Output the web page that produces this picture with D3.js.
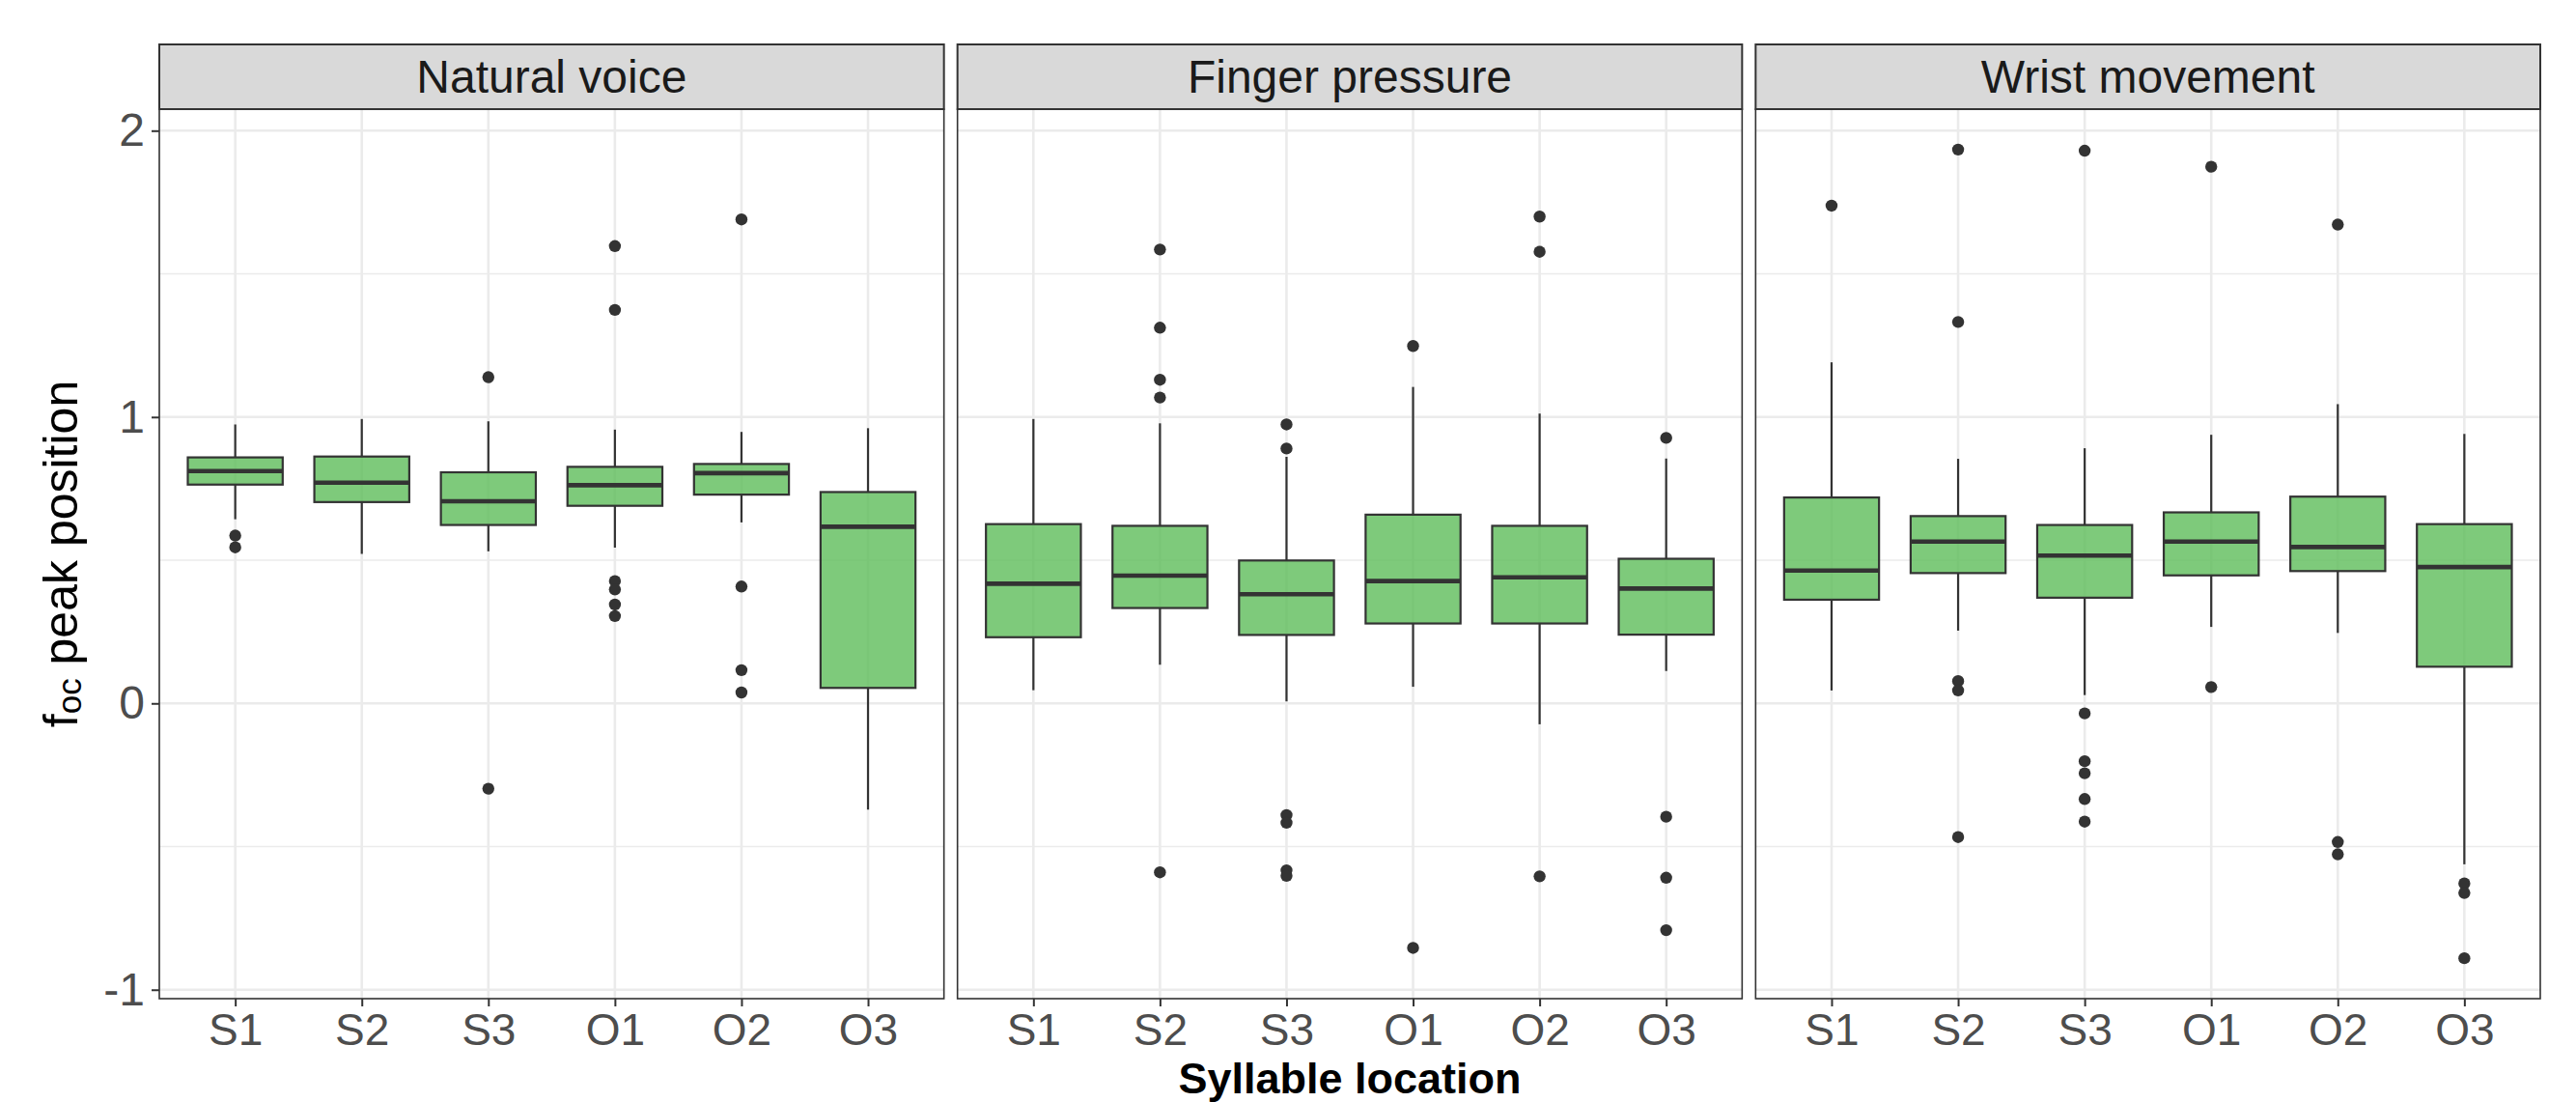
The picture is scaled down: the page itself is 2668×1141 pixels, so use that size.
<!DOCTYPE html>
<html>
<head>
<meta charset="utf-8">
<script src="https://cdn.jsdelivr.net/npm/d3@7"></script>
<style>
  body { margin: 0; background: #fff; }
  text { font-family: "Liberation Sans", Arial, Helvetica, sans-serif; }
</style>
</head>
<body>
<svg id="chart" width="2668" height="1141"></svg>
<script>
// syllable positions and facets
var categories = ["S1", "S2", "S3", "O1", "O2", "O3"];
var facets = ["Natural voice", "Finger pressure", "Wrist movement"];
var yTicks = [-1, 0, 1, 2];
var yMinor = [-0.5, 0.5, 1.5];

// [lower whisker, Q1, median, Q3, upper whisker] per syllable
var naturalStats = [
  [0.643, 0.764, 0.811, 0.859, 0.974],
  [0.522, 0.703, 0.771, 0.862, 0.993],
  [0.531, 0.623, 0.706, 0.807, 0.985],
  [0.544, 0.690, 0.762, 0.826, 0.956],
  [0.632, 0.729, 0.804, 0.836, 0.948],
  [-0.371, 0.054, 0.617, 0.738, 0.961]
];
var naturalOutliers = [
  [0.586, 0.545],
  [],
  [1.139, -0.298],
  [1.597, 1.374, 0.427, 0.398, 0.345, 0.305],
  [1.690, 0.408, 0.116, 0.038],
  []
];

var fingerStats = [
  [0.046, 0.231, 0.418, 0.626, 0.993],
  [0.135, 0.333, 0.446, 0.620, 0.978],
  [0.007, 0.239, 0.381, 0.499, 0.861],
  [0.058, 0.279, 0.427, 0.659, 1.105],
  [-0.073, 0.279, 0.440, 0.620, 1.012],
  [0.113, 0.240, 0.401, 0.505, 0.855]
];
var fingerOutliers = [
  [],
  [1.585, 1.312, 1.130, 1.068, -0.590],
  [0.974, 0.890, -0.390, -0.417, -0.583, -0.602],
  [1.248, -0.854],
  [1.700, 1.577, -0.604],
  [0.927, -0.396, -0.609, -0.792]
];

var wristStats = [
  [0.045, 0.362, 0.464, 0.719, 1.191],
  [0.254, 0.455, 0.565, 0.654, 0.854],
  [0.029, 0.369, 0.516, 0.623, 0.891],
  [0.267, 0.447, 0.565, 0.667, 0.938],
  [0.246, 0.462, 0.546, 0.722, 1.045],
  [-0.562, 0.128, 0.476, 0.626, 0.941]
];
var wristOutliers = [
  [1.738],
  [1.934, 1.332, 0.078, 0.045, -0.467],
  [1.930, -0.035, -0.202, -0.244, -0.334, -0.413],
  [1.874, 0.057],
  [1.672, -0.484, -0.527],
  [-0.629, -0.662, -0.890]
];

var panelStats = [naturalStats, fingerStats, wristStats];
var panelOutliers = [naturalOutliers, fingerOutliers, wristOutliers];

var svg = d3.select("#chart");
svg.append("rect").attr("width", 2668).attr("height", 1141).attr("fill", "#fff");

var plotLeft = 165, plotRight = 2631, gap = 14;
var panelW = (plotRight - plotLeft - 2 * gap) / 3;
var panelTop = 113, panelBottom = 1034, stripTop = 46;

// y range with ggplot-style 5% expansion
var allVals = [];
panelStats.forEach(function (p) { p.forEach(function (s) { allVals.push(s[0], s[4]); }); });
panelOutliers.forEach(function (p) { p.forEach(function (o) { allVals = allVals.concat(o); }); });
var lo = d3.min(allVals), hi = d3.max(allVals), pad = (hi - lo) * 0.05;

var y = d3.scaleLinear().domain([lo - pad, hi + pad]).range([panelBottom, panelTop]);
var x = d3.scalePoint().domain(categories).range([0, panelW]).padding(0.6);
var boxW = x.step() * 0.75;

var fill = "rgb(94,189,90)", ink = "#333333";

facets.forEach(function (name, i) {
  var g = svg.append("g").attr("transform", "translate(" + (plotLeft + i * (panelW + gap)) + ",0)");
  var stats = panelStats[i], outs = panelOutliers[i];

  g.selectAll(".minor").data(yMinor).enter().append("line")
    .attr("x1", 0).attr("x2", panelW)
    .attr("y1", function (d) { return y(d); }).attr("y2", function (d) { return y(d); })
    .attr("stroke", "#EBEBEB").attr("stroke-width", 1.4);
  g.selectAll(".major").data(yTicks).enter().append("line")
    .attr("x1", 0).attr("x2", panelW)
    .attr("y1", function (d) { return y(d); }).attr("y2", function (d) { return y(d); })
    .attr("stroke", "#EBEBEB").attr("stroke-width", 2.6);
  g.selectAll(".vgrid").data(categories).enter().append("line")
    .attr("x1", function (d) { return x(d); }).attr("x2", function (d) { return x(d); })
    .attr("y1", panelTop).attr("y2", panelBottom)
    .attr("stroke", "#EBEBEB").attr("stroke-width", 2.6);

  var box = g.selectAll(".box").data(categories).enter().append("g");

  box.append("line")
    .attr("x1", function (d) { return x(d); }).attr("x2", function (d) { return x(d); })
    .attr("y1", function (d, j) { return y(stats[j][4]); })
    .attr("y2", function (d, j) { return y(stats[j][3]); })
    .attr("stroke", ink).attr("stroke-width", 2.2);
  box.append("line")
    .attr("x1", function (d) { return x(d); }).attr("x2", function (d) { return x(d); })
    .attr("y1", function (d, j) { return y(stats[j][1]); })
    .attr("y2", function (d, j) { return y(stats[j][0]); })
    .attr("stroke", ink).attr("stroke-width", 2.2);
  box.append("rect")
    .attr("x", function (d) { return x(d) - boxW / 2; })
    .attr("width", boxW)
    .attr("y", function (d, j) { return y(stats[j][3]); })
    .attr("height", function (d, j) { return y(stats[j][1]) - y(stats[j][3]); })
    .attr("fill", fill).attr("fill-opacity", 0.8)
    .attr("stroke", ink).attr("stroke-width", 2.2);
  box.append("line")
    .attr("x1", function (d) { return x(d) - boxW / 2; })
    .attr("x2", function (d) { return x(d) + boxW / 2; })
    .attr("y1", function (d, j) { return y(stats[j][2]); })
    .attr("y2", function (d, j) { return y(stats[j][2]); })
    .attr("stroke", ink).attr("stroke-width", 4.6);

  box.selectAll("circle")
    .data(function (d, j) { return outs[j].map(function (v) { return {c: d, v: v}; }); })
    .enter().append("circle")
    .attr("cx", function (d) { return x(d.c); })
    .attr("cy", function (d) { return y(d.v); })
    .attr("r", 6.2).attr("fill", ink);

  // panel border
  g.append("rect").attr("x", 0).attr("y", panelTop).attr("width", panelW).attr("height", panelBottom - panelTop)
    .attr("fill", "none").attr("stroke", ink).attr("stroke-width", 1.6);

  // strip
  g.append("rect").attr("x", 0).attr("y", stripTop).attr("width", panelW).attr("height", panelTop - stripTop)
    .attr("fill", "#D9D9D9").attr("stroke", ink).attr("stroke-width", 2);
  g.append("text").attr("x", panelW / 2).attr("y", 96)
    .attr("text-anchor", "middle").attr("font-size", 48).attr("fill", "#1A1A1A").text(name);

  // x axis
  var xAxis = g.append("g").attr("transform", "translate(0," + panelBottom + ")")
    .call(d3.axisBottom(x).tickSize(8).tickPadding(7));
  xAxis.select(".domain").remove();
  xAxis.selectAll(".tick line").attr("stroke", ink).attr("stroke-width", 2);
  xAxis.selectAll(".tick text").attr("font-size", 46).attr("fill", "#4D4D4D")
    .attr("font-family", "Liberation Sans, Arial, sans-serif").attr("dy", "0.71em");
});

// y axis on first panel
var yAxis = svg.append("g").attr("transform", "translate(" + plotLeft + ",0)")
  .call(d3.axisLeft(y).tickValues(yTicks).tickSize(8).tickPadding(7)
    .tickFormat(function (d) { return String(d); }));
yAxis.select(".domain").remove();
yAxis.selectAll(".tick line").attr("stroke", ink).attr("stroke-width", 2);
yAxis.selectAll(".tick text").attr("font-size", 48).attr("fill", "#4D4D4D")
  .attr("font-family", "Liberation Sans, Arial, sans-serif");

// axis titles
svg.append("text").attr("x", (plotLeft + plotRight) / 2).attr("y", 1132)
  .attr("text-anchor", "middle").attr("font-size", 45).attr("font-weight", "bold").attr("fill", "#000")
  .text("Syllable location");

var yt = svg.append("text")
  .attr("transform", "translate(80," + ((panelTop + panelBottom) / 2) + ") rotate(-90)")
  .attr("text-anchor", "middle").attr("font-size", 50).attr("fill", "#000");
yt.append("tspan").text("f");
yt.append("tspan").attr("font-size", 35).attr("dy", 4).text("oc");
yt.append("tspan").attr("dy", -4).text(" peak position");
</script>
</body>
</html>
